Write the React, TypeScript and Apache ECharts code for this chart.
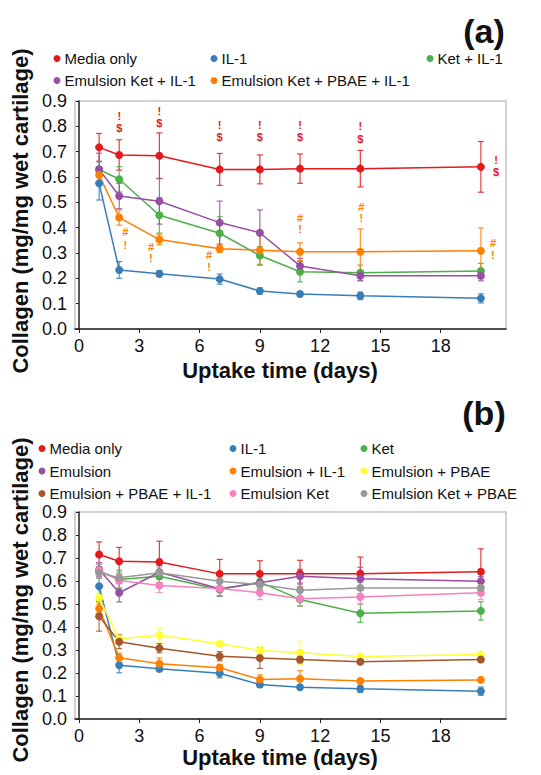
import React, { useEffect, useRef } from "react";
import * as echarts from "echarts";

const FONT = "'Liberation Sans', Arial, sans-serif";

const days = [1, 2, 4, 7, 9, 11, 14, 20];
const xTickValues = [0, 3, 6, 9, 12, 15, 18];

// Panel (a)
const aNames = ["Media only", "IL-1", "Ket + IL-1", "Emulsion Ket + IL-1", "Emulsion Ket + PBAE + IL-1"];
const aColors = ["#e41a1c", "#377eb8", "#4daf4a", "#984ea3", "#ff7f00"];
const aMedia = [0.717, 0.687, 0.684, 0.630, 0.630, 0.633, 0.633, 0.640];
const aMediaErr = [0.055, 0.06, 0.09, 0.063, 0.057, 0.058, 0.072, 0.10];
const aIL1 = [0.575, 0.233, 0.218, 0.197, 0.150, 0.138, 0.131, 0.121];
const aIL1Err = [0.066, 0.033, 0.012, 0.02, 0.012, 0.01, 0.015, 0.018];
const aKet = [0.630, 0.591, 0.449, 0.378, 0.290, 0.226, 0.222, 0.229];
const aKetErr = [0.03, 0.05, 0.07, 0.065, 0.035, 0.04, 0.03, 0.03];
const aEmKet = [0.630, 0.525, 0.504, 0.420, 0.380, 0.249, 0.210, 0.210];
const aEmKetErr = [0.064, 0.05, 0.09, 0.085, 0.09, 0.03, 0.02, 0.02];
const aEmKetPBAE = [0.608, 0.440, 0.353, 0.317, 0.311, 0.305, 0.305, 0.309];
const aEmKetPBAEErr = [0.03, 0.03, 0.02, 0.015, 0.06, 0.035, 0.09, 0.09];

// significance marks in panel (a): [day, value, symbol]
const aRedMarks: [number, number, string][] = [
  [2, 0.841, "!"], [2, 0.794, "$"],
  [4, 0.861, "!"], [4, 0.814, "$"],
  [7, 0.805, "!"], [7, 0.759, "$"],
  [9, 0.805, "!"], [9, 0.759, "$"],
  [11, 0.805, "!"], [11, 0.759, "$"],
  [14, 0.801, "!"], [14, 0.751, "$"],
  [20.75, 0.667, "!"], [20.75, 0.621, "$"],
];
const aOrangeMarks: [number, number, string][] = [
  [2.3, 0.384, "#"], [2.3, 0.332, "!"],
  [3.58, 0.324, "#"], [3.58, 0.280, "!"],
  [6.47, 0.292, "#"], [6.47, 0.246, "!"],
  [11, 0.438, "#"], [11, 0.395, "!"],
  [14.05, 0.483, "#"], [14.05, 0.438, "!"],
  [20.6, 0.338, "#"], [20.6, 0.292, "!"],
];

// Panel (b)
const bNames = [
  "Media only", "IL-1", "Ket",
  "Emulsion", "Emulsion + IL-1", "Emulsion + PBAE",
  "Emulsion + PBAE + IL-1", "Emulsion Ket", "Emulsion Ket + PBAE",
];
const bColors = ["#e41a1c", "#377eb8", "#4daf4a", "#984ea3", "#ff7f00", "#ffff33", "#a65628", "#f781bf", "#999999"];
const bMedia = [0.715, 0.686, 0.683, 0.631, 0.631, 0.632, 0.632, 0.640];
const bMediaErr = [0.055, 0.06, 0.09, 0.063, 0.057, 0.058, 0.072, 0.10];
const bIL1 = [0.577, 0.234, 0.218, 0.199, 0.150, 0.138, 0.131, 0.121];
const bIL1Err = [0.066, 0.033, 0.012, 0.02, 0.012, 0.01, 0.015, 0.018];
const bKet = [0.643, 0.607, 0.621, 0.563, 0.595, 0.520, 0.460, 0.470];
const bKetErr = [0.03, 0.04, 0.03, 0.03, 0.03, 0.03, 0.04, 0.04];
const bEm = [0.650, 0.549, 0.638, 0.566, 0.592, 0.621, 0.610, 0.599];
const bEmErr = [0.03, 0.04, 0.03, 0.03, 0.03, 0.03, 0.05, 0.02];
const bEmIL1 = [0.480, 0.266, 0.240, 0.223, 0.172, 0.175, 0.165, 0.170];
const bEmIL1Err = [0.02, 0.02, 0.025, 0.015, 0.02, 0.035, 0.01, 0.01];
const bEmPBAE = [0.527, 0.349, 0.364, 0.327, 0.298, 0.288, 0.272, 0.280];
const bEmPBAEErr = [0.02, 0.01, 0.03, 0.01, 0.015, 0.05, 0.01, 0.01];
const bEmPBAEIL1 = [0.447, 0.336, 0.308, 0.273, 0.265, 0.259, 0.249, 0.259];
const bEmPBAEIL1Err = [0.065, 0.03, 0.02, 0.02, 0.045, 0.015, 0.01, 0.01];
const bEmKet = [0.647, 0.602, 0.580, 0.567, 0.549, 0.523, 0.530, 0.549];
const bEmKetErr = [0.03, 0.03, 0.03, 0.03, 0.03, 0.03, 0.03, 0.03];
const bEmKetPBAE = [0.636, 0.614, 0.636, 0.599, 0.585, 0.560, 0.570, 0.570];
const bEmKetPBAEErr = [0.025, 0.025, 0.025, 0.025, 0.025, 0.025, 0.025, 0.025];

const aValues = [aMedia, aIL1, aKet, aEmKet, aEmKetPBAE];
const aErrs = [aMediaErr, aIL1Err, aKetErr, aEmKetErr, aEmKetPBAEErr];
const bValues = [bMedia, bIL1, bKet, bEm, bEmIL1, bEmPBAE, bEmPBAEIL1, bEmKet, bEmKetPBAE];
const bErrs = [bMediaErr, bIL1Err, bKetErr, bEmErr, bEmIL1Err, bEmPBAEErr, bEmPBAEIL1Err, bEmKetErr, bEmKetPBAEErr];

// legend layout (icon centre x, row centre y)
const aLegendPos: [number, number][] = [[57, 59], [214, 59], [430, 59], [57, 81], [214, 81]];
const bLegendPos: [number, number][] = [
  [42, 449], [233, 449], [364, 449],
  [42, 471.5], [233, 471.5], [364, 471.5],
  [42, 494], [233, 494], [364, 494],
];

function errorSeries(name: string, color: string, vals: number[], errs: number[], idx: number) {
  return {
    type: "custom",
    name: name + " error",
    xAxisIndex: idx,
    yAxisIndex: idx,
    z: 1,
    silent: true,
    data: days.map((d, i) => [d, vals[i], errs[i]]),
    renderItem: (params: any, api: any) => {
      const x = api.value(0);
      const y = api.value(1);
      const e = api.value(2);
      const top = api.coord([x, y + e]);
      const bot = api.coord([x, y - e]);
      const cap = 3;
      const st = { stroke: color, lineWidth: 1.2, opacity: 0.85 };
      return {
        type: "group",
        children: [
          { type: "line", shape: { x1: top[0], y1: top[1], x2: bot[0], y2: bot[1] }, style: st },
          { type: "line", shape: { x1: top[0] - cap, y1: top[1], x2: top[0] + cap, y2: top[1] }, style: st },
          { type: "line", shape: { x1: bot[0] - cap, y1: bot[1], x2: bot[0] + cap, y2: bot[1] }, style: st },
        ],
      };
    },
  };
}

function lineSeries(name: string, color: string, vals: number[], idx: number) {
  return {
    type: "line",
    name,
    xAxisIndex: idx,
    yAxisIndex: idx,
    z: 3,
    color,
    symbol: "circle",
    symbolSize: 8,
    lineStyle: { width: 1.5, color },
    itemStyle: { color },
    data: days.map((d, i) => [d, vals[i]]),
  };
}

function markSeries(name: string, color: string, marks: [number, number, string][]) {
  return {
    type: "custom",
    name,
    xAxisIndex: 0,
    yAxisIndex: 0,
    z: 4,
    silent: true,
    data: marks.map((m) => [m[0], m[1]]),
    renderItem: (params: any, api: any) => {
      const p = api.coord([api.value(0), api.value(1)]);
      const t = marks[params.dataIndex][2];
      return {
        type: "text",
        x: p[0],
        y: p[1],
        style: {
          text: t,
          fill: color,
          font: "bold 11px " + FONT,
          align: "center",
          verticalAlign: "middle",
        },
      };
    },
  };
}

function legendFor(name: string, pos: [number, number]) {
  return {
    data: [name],
    left: pos[0] - 3.5,
    top: pos[1] - 8,
    padding: 0,
    icon: "circle",
    itemWidth: 7,
    itemHeight: 7,
    selectedMode: false,
    textStyle: { fontSize: 15, color: "#111", fontFamily: FONT, padding: [0, 0, 0, -1] },
  };
}

function xAxisFor(idx: number) {
  return {
    type: "value",
    gridIndex: idx,
    min: -0.2,
    max: 21.25,
    axisLine: { show: true, lineStyle: { color: "#222", width: 1.5 } },
    axisTick: { show: true, length: 4, lineStyle: { color: "#222" }, customValues: xTickValues },
    axisLabel: { fontSize: 18, color: "#111", fontFamily: FONT, margin: 8, customValues: xTickValues },
    splitLine: { show: false },
  };
}

function yAxisFor(idx: number) {
  return {
    type: "value",
    gridIndex: idx,
    min: 0,
    max: 0.9,
    interval: 0.1,
    axisLine: { show: true, lineStyle: { color: "#222", width: 1.5 } },
    axisTick: { show: true, length: 3, lineStyle: { color: "#222" } },
    axisLabel: {
      fontSize: 18,
      color: "#111",
      fontFamily: FONT,
      margin: 8,
      formatter: (v: number) => v.toFixed(1),
    },
    splitLine: { show: false },
  };
}

export default function App() {
  const ref = useRef<HTMLDivElement>(null);
  useEffect(() => {
    if (!ref.current) return;
    const chart = echarts.init(ref.current, undefined, { renderer: "svg" });
    const series: any[] = [];
    aNames.forEach((n, i) => series.push(errorSeries(n, aColors[i], aValues[i], aErrs[i], 0)));
    aNames.forEach((n, i) => series.push(lineSeries(n, aColors[i], aValues[i], 0)));
    bNames.forEach((n, i) => series.push(errorSeries(n, bColors[i], bValues[i], bErrs[i], 1)));
    bNames.forEach((n, i) => series.push(lineSeries(n, bColors[i], bValues[i], 1)));
    series.push(markSeries("marks red", "#e41a1c", aRedMarks));
    series.push(markSeries("marks orange", "#ff7f00", aOrangeMarks));

    const legends = [
      ...aNames.map((n, i) => legendFor(n, aLegendPos[i])),
      ...bNames.map((n, i) => legendFor(n, bLegendPos[i])),
    ];

    const titleStyle = { fill: "#111", font: "bold 22px " + FONT, align: "center", verticalAlign: "middle" };

    chart.setOption({
      animation: false,
      backgroundColor: "#fff",
      grid: [
        { left: 75, top: 101, width: 431, height: 228, show: true, borderColor: "#c4c4c4", borderWidth: 1.5 },
        { left: 75, top: 512, width: 431, height: 207, show: true, borderColor: "#c4c4c4", borderWidth: 1.5 },
      ],
      xAxis: [xAxisFor(0), xAxisFor(1)],
      yAxis: [yAxisFor(0), yAxisFor(1)],
      legend: legends,
      series,
      graphic: [
        { type: "text", x: 484, y: 31, style: { text: "(a)", fill: "#111", font: "bold 34px " + FONT, align: "center", verticalAlign: "middle" } },
        { type: "text", x: 484, y: 413, style: { text: "(b)", fill: "#111", font: "bold 34px " + FONT, align: "center", verticalAlign: "middle" } },
        { type: "text", x: 20, y: 211, rotation: Math.PI / 2, style: { ...titleStyle, text: "Collagen (mg/mg wet cartilage)" } },
        { type: "text", x: 280, y: 370, style: { ...titleStyle, text: "Uptake time (days)" } },
        { type: "text", x: 20, y: 600, rotation: Math.PI / 2, style: { ...titleStyle, text: "Collagen (mg/mg wet cartilage)" } },
        { type: "text", x: 280, y: 757, style: { ...titleStyle, text: "Uptake time (days)" } },
      ],
    });
    return () => chart.dispose();
  }, []);
  return (
    <div
      ref={ref}
      style={{ position: "absolute", left: 0, top: 0, width: 541, height: 775, background: "#fff" }}
    />
  );
}
